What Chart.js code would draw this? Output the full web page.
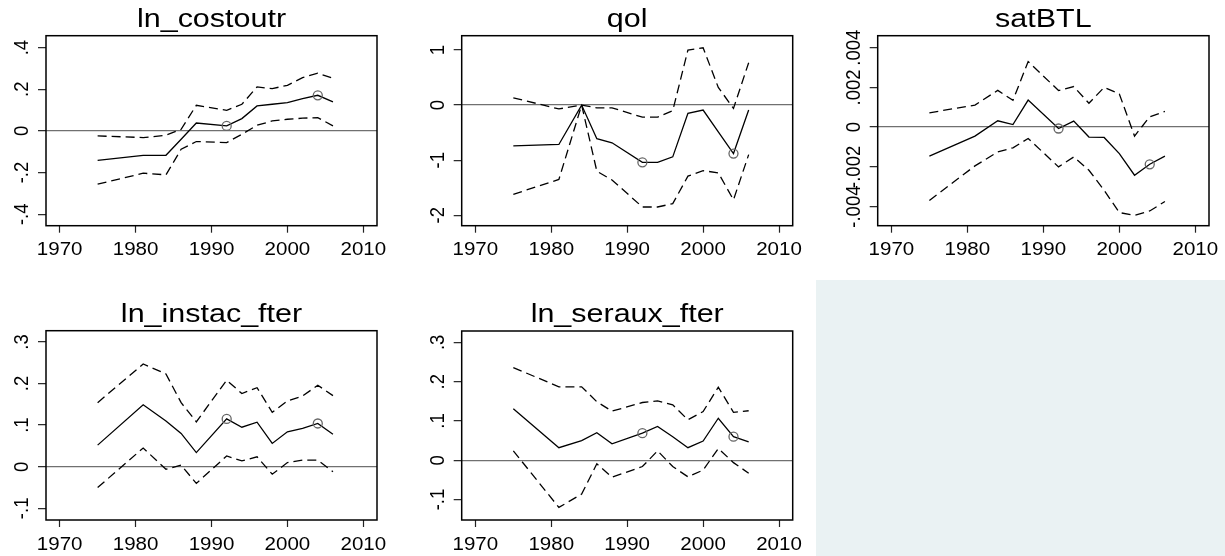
<!DOCTYPE html>
<html><head><meta charset="utf-8">
<script src="https://cdn.jsdelivr.net/npm/chart.js@4.4.0/dist/chart.umd.min.js"></script>
<style>
html,body{margin:0;padding:0;background:#fff;width:1225px;height:556px;overflow:hidden;position:relative}
canvas{position:absolute;left:0;top:0}
#empty{position:absolute;left:816px;top:280px;width:409px;height:276px;background:#eaf2f3}
</style></head><body>
<div id="empty"></div>
<canvas id="c1" width="1225" height="556"></canvas>
<canvas id="c2" width="1225" height="556"></canvas>
<canvas id="c3" width="1225" height="556"></canvas>
<canvas id="c4" width="1225" height="556"></canvas>
<canvas id="c5" width="1225" height="556"></canvas>
<script>
// ---- data ----
const years = [1975, 1981, 1984, 1986, 1988, 1992, 1994, 1996, 1998, 2000, 2002, 2004, 2006];
const markedYears = [1992, 2004];
const xTicks = [1970, 1980, 1990, 2000, 2010];
const titles = ['ln_costoutr', 'qol', 'satBTL', 'ln_instac_fter', 'ln_seraux_fter'];

const costoutrB  = [-0.141, -0.117, -0.117, -0.040, 0.038, 0.024, 0.059, 0.120, 0.128, 0.136, 0.155, 0.171, 0.139];
const costoutrHi = [-0.024, -0.032, -0.021, 0.008, 0.123, 0.099, 0.128, 0.211, 0.203, 0.219, 0.256, 0.277, 0.253];
const costoutrLo = [-0.256, -0.203, -0.211, -0.088, -0.051, -0.056, -0.016, 0.027, 0.048, 0.056, 0.061, 0.064, 0.024];

const qolB  = [-0.74, -0.715, 0, -0.61, -0.685, -1.04, -1.04, -0.94, -0.15, -0.09, -0.485, -0.88, -0.09];
const qolHi = [0.133, -0.07, 0, -0.05, -0.05, -0.22, -0.22, -0.10, 1.00, 1.04, 0.32, -0.06, 0.77];
const qolLo = [-1.62, -1.35, 0, -1.20, -1.36, -1.85, -1.85, -1.79, -1.29, -1.19, -1.23, -1.72, -0.90];

const satB  = [-0.00146, -0.00045, 0.00032, 0.00013, 0.00136, -0.00007, 0.00030, -0.00050, -0.00052, -0.00133, -0.00242, -0.00187, -0.00146];
const satHi = [0.00072, 0.00111, 0.00185, 0.00135, 0.00330, 0.00184, 0.00204, 0.00120, 0.00200, 0.00167, -0.00045, 0.00052, 0.00079];
const satLo = [-0.00369, -0.00195, -0.00125, -0.00104, -0.00057, -0.00200, -0.00150, -0.00217, -0.00318, -0.00430, -0.00444, -0.00422, -0.00374];

const instacB  = [0.052, 0.149, 0.110, 0.080, 0.034, 0.115, 0.095, 0.107, 0.056, 0.084, 0.092, 0.104, 0.078];
const instacHi = [0.154, 0.247, 0.223, 0.154, 0.108, 0.208, 0.176, 0.190, 0.131, 0.158, 0.170, 0.196, 0.171];
const instacLo = [-0.050, 0.045, -0.006, 0.004, -0.040, 0.026, 0.014, 0.024, -0.018, 0.010, 0.016, 0.016, -0.012];

const serauxB  = [0.131, 0.032, 0.050, 0.070, 0.042, 0.069, 0.086, 0.060, 0.032, 0.049, 0.107, 0.060, 0.047];
const serauxHi = [0.236, 0.187, 0.187, 0.149, 0.125, 0.147, 0.151, 0.141, 0.103, 0.124, 0.186, 0.122, 0.126];
const serauxLo = [0.024, -0.120, -0.086, -0.009, -0.043, -0.016, 0.024, -0.016, -0.042, -0.025, 0.030, -0.006, -0.033];

const yTicksCostoutr = [-0.4, -0.2, 0, 0.2, 0.4];
const yTicksQol = [-2, -1, 0, 1];
const yTicksSat = [-0.004, -0.002, 0, 0.002, 0.004];
const yTicksInstac = [-0.1, 0, 0.1, 0.2, 0.3];
const yTicksSeraux = [-0.1, 0, 0.1, 0.2, 0.3];

// ---- layout ----
const W = 1225, H = 556;
const panels = [
  {id:'c1', title:titles[0], b:costoutrB, hi:costoutrHi, lo:costoutrLo, yTicks:yTicksCostoutr, yMin:-0.455, yMax:0.457, box:{l:46, r:377, t:35.7, b:225.7}},
  {id:'c2', title:titles[1], b:qolB, hi:qolHi, lo:qolLo, yTicks:yTicksQol, yMin:-2.19, yMax:1.26, box:{l:461.7, r:792.7, t:35.7, b:225.7}},
  {id:'c3', title:titles[2], b:satB, hi:satHi, lo:satLo, yTicks:yTicksSat, yMin:-0.00496, yMax:0.0046, box:{l:877.7, r:1209, t:35.7, b:225.7}},
  {id:'c4', title:titles[3], b:instacB, hi:instacHi, lo:instacLo, yTicks:yTicksInstac, yMin:-0.128, yMax:0.327, box:{l:46, r:377, t:330.7, b:520}},
  {id:'c5', title:titles[4], b:serauxB, hi:serauxHi, lo:serauxLo, yTicks:yTicksSeraux, yMin:-0.152, yMax:0.329, box:{l:461.7, r:792.7, t:331, b:520}}
];
const Y_AXIS_W = 40, X_AXIS_H = 35;
const FONT = '"Liberation Sans", Arial, Helvetica, sans-serif';
const TICK_PX = 18.5, TICK_STRETCH = 1.11;
const TITLE_PX = 26.5, TITLE_STRETCH = 1.15;

function fmt(v) {
  if (v === 0) return '0';
  let s = String(+v.toPrecision(6));
  return s.replace(/^(-?)0\./, '$1.');
}

const decoPlugin = {
  id: 'deco',
  afterDatasetsDraw(chart) {
    const a = chart.chartArea, ctx = chart.ctx;
    ctx.save();
    ctx.strokeStyle = '#000';
    ctx.lineWidth = 1.5;
    ctx.strokeRect(a.left, a.top, a.right - a.left, a.bottom - a.top);
    ctx.restore();
  },
  afterDraw(chart, args, opts) {
    const a = chart.chartArea, ctx = chart.ctx;
    const xs = chart.scales.x, ys = chart.scales.y;
    ctx.save();
    ctx.fillStyle = '#000';
    // x tick labels
    ctx.font = TICK_PX + 'px ' + FONT;
    ctx.textAlign = 'center';
    ctx.textBaseline = 'alphabetic';
    xs.ticks.forEach(t => {
      const px = xs.getPixelForValue(t.value);
      ctx.save();
      ctx.translate(px, a.bottom + 29.5);
      ctx.scale(TICK_STRETCH, 1);
      ctx.fillText(fmt(t.value), 0, 0);
      ctx.restore();
    });
    // y tick labels, rotated
    ys.ticks.forEach(t => {
      const py = ys.getPixelForValue(t.value);
      ctx.save();
      ctx.translate(a.left - 18, py);
      ctx.scale(TICK_STRETCH, 1);
      ctx.rotate(-Math.PI / 2);
      ctx.fillText(fmt(t.value), 0, 0);
      ctx.restore();
    });
    // title
    ctx.font = TITLE_PX + 'px ' + FONT;
    ctx.save();
    ctx.translate((a.left + a.right) / 2, a.top - 9);
    ctx.scale(TITLE_STRETCH, 1);
    ctx.fillText(opts.text, 0, 0);
    ctx.restore();
    ctx.restore();
  }
};

panels.forEach(p => {
  const pts = arr => years.map((x, i) => ({x: x, y: arr[i]}));
  new Chart(document.getElementById(p.id), {
    type: 'line',
    data: {
      datasets: [
        {data: pts(p.hi), borderColor: '#000', borderWidth: 1.3, borderDash: [9, 5], pointRadius: 0, tension: 0},
        {data: pts(p.lo), borderColor: '#000', borderWidth: 1.3, borderDash: [9, 5], pointRadius: 0, tension: 0},
        {data: pts(p.b), borderColor: '#000', borderWidth: 1.3, tension: 0,
         pointRadius: ctx => markedYears.includes(years[ctx.dataIndex]) ? 4.5 : 0,
         pointStyle: 'circle', pointBorderColor: '#666', pointBorderWidth: 1.3,
         pointBackgroundColor: 'rgba(0,0,0,0)'}
      ]
    },
    options: {
      responsive: false, animation: false, events: [],
      layout: {padding: {left: p.box.l - Y_AXIS_W, right: W - p.box.r, top: p.box.t, bottom: H - p.box.b - X_AXIS_H}},
      plugins: {legend: {display: false}, tooltip: {enabled: false}, title: {display: false}, deco: {text: p.title}},
      scales: {
        x: {
          type: 'linear', min: 1968.2, max: 2011.8,
          afterBuildTicks: s => { s.ticks = xTicks.map(v => ({value: v})); },
          afterFit: s => { s.height = X_AXIS_H; },
          ticks: {display: false},
          border: {display: false},
          grid: {drawOnChartArea: false, drawTicks: true, tickLength: 7, tickColor: '#222', tickWidth: 1.2}
        },
        y: {
          type: 'linear', min: p.yMin, max: p.yMax,
          afterBuildTicks: s => { s.ticks = p.yTicks.map(v => ({value: v})); },
          afterFit: s => { s.width = Y_AXIS_W; },
          ticks: {display: false},
          border: {display: false},
          grid: {drawOnChartArea: true, drawTicks: true, tickLength: 8,
                 color: ctx => (ctx.tick && ctx.tick.value === 0) ? '#707070' : 'rgba(0,0,0,0)',
                 lineWidth: 1.3, tickColor: '#222', tickWidth: 1.2}
        }
      }
    },
    plugins: [decoPlugin]
  });
});
</script>
</body></html>
